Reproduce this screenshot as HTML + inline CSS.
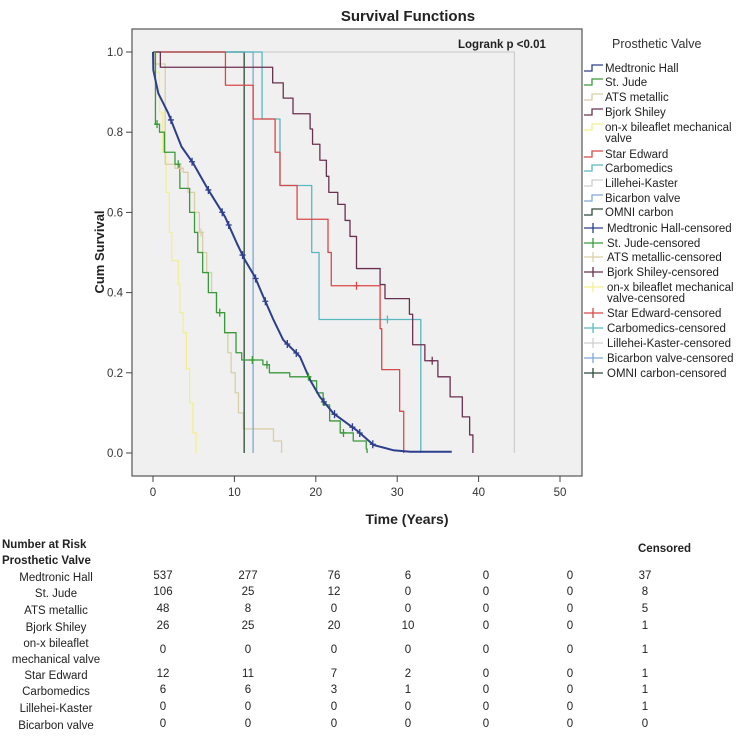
<!DOCTYPE html>
<html><head><meta charset="utf-8"><style>
body{margin:0;background:#fff;width:750px;height:747px;overflow:hidden;font-family:"Liberation Sans",Arial,sans-serif;position:relative}
.t{position:absolute;font-size:11.5px;color:#222;white-space:nowrap}
.b{font-weight:bold}
.c{transform:translateX(-50%);text-align:center}
</style></head><body>
<svg id="chart" width="750" height="535" style="position:absolute;left:0;top:0" font-family="Liberation Sans, Arial, sans-serif">
<text x="408" y="21" font-size="15" font-weight="bold" text-anchor="middle" fill="#222">Survival Functions</text>
<rect x="132" y="29" width="450" height="447" fill="#f0f0f0" stroke="#555" stroke-width="1.2"/>
<text x="458" y="48" font-size="11.5" font-weight="bold" fill="#222">Logrank p &lt;0.01</text>
<text transform="translate(104,252) rotate(-90)" font-size="13" font-weight="bold" text-anchor="middle" fill="#222">Cum Survival</text>
<text x="407" y="524" font-size="14" font-weight="bold" text-anchor="middle" fill="#222">Time (Years)</text>
<text x="612" y="48" font-size="12.5" fill="#333">Prosthetic Valve</text>
<g id="axes"></g><g id="series"></g><g id="legend"></g>
</svg>

<div class="t b" style="left:2px;top:537px;line-height:16px">Number at Risk<br>Prosthetic Valve</div>
<div class="t b" style="left:638px;top:543px">Censored</div>
<div id="table"></div>

<script>
const NS="http://www.w3.org/2000/svg";
const xTicks=[0,10,20,30,40,50];
const yTicks=[0.0,0.2,0.4,0.6,0.8,1.0];
const seriesNames=["Medtronic Hall","St. Jude","ATS metallic","Bjork Shiley","on-x bileaflet mechanical valve","Star Edward","Carbomedics","Lillehei-Kaster","Bicarbon valve","OMNI carbon"];
const seriesColors=["#2d3e8c","#3a9a3a","#d8cfa8","#6a3050","#f2ef90","#d84848","#58b8c0","#cfcfcf","#7ea8d8","#2e4a3a"];
// Medtronic Hall drawn as dense curve of read points
const mhT=[0,0.04,0.65,1.88,3.5,4.95,6.8,8.85,10.3,11.3,12.5,13.55,14.8,16.0,18.06,19.3,20.5,22.15,25.0,27.1,29.5,31.6,36.7];
const mhS=[1,0.955,0.897,0.847,0.764,0.722,0.656,0.589,0.523,0.481,0.44,0.39,0.332,0.282,0.24,0.182,0.14,0.099,0.057,0.02,0.007,0.003,0.003];
const sjT=[0,0.3,0.8,1.4,2.7,3.3,4.5,5.1,5.5,6.1,6.8,7.8,8.8,10.2,10.9,13.5,14.3,16.8,19.3,20.1,20.9,21.7,23.0,24.6,26.2,26.3];
const sjS=[1,0.82,0.8,0.75,0.72,0.66,0.6,0.55,0.5,0.45,0.4,0.35,0.3,0.25,0.232,0.22,0.2,0.19,0.18,0.15,0.12,0.08,0.05,0.03,0.01,0];
const atsT=[0,0.2,1.5,2.7,3.7,4.3,5.1,5.7,6.1,6.6,7.2,7.8,8.8,9.2,9.6,10.1,10.5,11.1,14.8,15.8];
const atsS=[1,0.97,0.72,0.71,0.70,0.65,0.6,0.55,0.5,0.45,0.4,0.35,0.3,0.25,0.2,0.15,0.1,0.06,0.03,0];
const bjT=[0,0.9,14.7,16.0,17.2,19.3,19.6,20.5,21.3,21.6,22.7,23.6,24.2,25.0,27.9,28.5,31.5,31.9,33.4,35.0,36.5,38.0,38.9,39.3];
const bjS=[1,0.962,0.923,0.885,0.846,0.808,0.77,0.73,0.69,0.65,0.62,0.58,0.54,0.46,0.42,0.385,0.346,0.27,0.23,0.19,0.14,0.09,0.045,0];
const oxT=[0,0.3,0.8,1.2,1.6,2.0,2.3,3.1,3.3,3.7,4.1,4.5,4.9,5.3];
const oxS=[1,0.95,0.85,0.75,0.65,0.55,0.48,0.42,0.35,0.3,0.21,0.125,0.05,0];
const seT=[0,8.9,12.3,15.0,15.6,17.7,21.5,21.9,27.9,28.1,30.3,30.8];
const seS=[1,0.917,0.833,0.75,0.667,0.583,0.5,0.417,0.31,0.208,0.104,0];
const cbT=[0,13.4,15.6,19.5,20.4,32.9];
const cbS=[1,0.833,0.667,0.5,0.333,0];
const lkT=[0,44.4];
const lkS=[1,0];
const bcT=[0,12.3];
const bcS=[1,0];
const omT=[0.9,11.2];
const omS=[1,0];
const mhCens=[2.2,4.8,6.8,8.5,9.3,11.0,12.6,13.8,16.5,17.6,21.0,22.3,24.5,25.4,27.0];
const sjCens=[0.5,3.1,8.2,12.2,14.0,19.1,23.4];
const seCens=[25.0];
const cbCens=[28.8];
const bjCens=[34.3];
const atsCens=[3.4,5.9];
const seriesT=[mhT,sjT,atsT,bjT,oxT,seT,cbT,lkT,bcT,omT];
const seriesS=[mhS,sjS,atsS,bjS,oxS,seS,cbS,lkS,bcS,omS];
const cens=[[0,mhCens],[1,sjCens],[5,seCens],[6,cbCens],[3,bjCens],[2,atsCens]];
const riskRows=["Medtronic Hall","St. Jude","ATS metallic","Bjork Shiley","on-x bileaflet|mechanical valve","Star Edward","Carbomedics","Lillehei-Kaster","Bicarbon valve"];
const riskVals=[[537,277,76,6,0,0,37],[106,25,12,0,0,0,8],[48,8,0,0,0,0,5],[26,25,20,10,0,0,1],[0,0,0,0,0,0,1],[12,11,7,2,0,0,1],[6,6,3,1,0,0,1],[0,0,0,0,0,0,1],[0,0,0,0,0,0,0]];

const X=t=>153+t*8.14;
const Y=s=>453-s*401;
function mk(tag,a,p){const e=document.createElementNS(NS,tag);for(const k in a)e.setAttribute(k,a[k]);p.appendChild(e);return e;}
const axes=document.getElementById('axes');
xTicks.forEach(v=>{
 const l=mk('line',{x1:X(v),x2:X(v),y1:476,y2:482,stroke:'#444'},axes);
 
 
 const t=mk('text',{x:X(v),y:496,'font-size':11.5,'text-anchor':'middle',fill:'#333'},axes);t.textContent=v;
 
 
});
yTicks.forEach(v=>{
 const l=mk('line',{x1:126,x2:132,y1:Y(v),y2:Y(v),stroke:'#444'},axes);
 
 
 const t=mk('text',{x:123,y:Y(v)+4,'font-size':11.5,'text-anchor':'end',fill:'#333'},axes);t.textContent=v.toFixed(1);
 
 
});
const g=document.getElementById('series');
function stepPath(T,S){let d='M'+X(T[0])+','+Y(S[0]);for(let i=1;i<T.length;i++){d+=' H'+X(T[i])+' V'+Y(S[i]);}return d;}
function linePath(T,S){let d='M'+X(T[0])+','+Y(S[0]);for(let i=1;i<T.length;i++){d+=' L'+X(T[i])+','+Y(S[i]);}return d;}
function survAt(T,S,t){if(T===mhT){for(let i=1;i<T.length;i++){if(T[i]>=t){const f=(t-T[i-1])/(T[i]-T[i-1]);return S[i-1]+f*(S[i]-S[i-1]);}}return S[S.length-1];}
 let s=S[0];for(let i=0;i<T.length;i++){if(T[i]<=t)s=S[i];}return s;}
[7,4,2,8,9,6,5,3,1,0].forEach(i=>{
 const d=i===0?linePath(seriesT[i],seriesS[i]):stepPath(seriesT[i],seriesS[i]);
 const p=mk('path',{d:d,fill:'none',stroke:seriesColors[i],'stroke-width':i===0?2:1.3,'stroke-linejoin':'round'},g);
 
 
});
cens.forEach(([i,arr])=>{arr.forEach(t=>{
 const x=X(t),y=Y(survAt(seriesT[i],seriesS[i],t));
 const c=mk('path',{d:`M${x-3},${y} H${x+3} M${x},${y-4} V${y+4}`,stroke:seriesColors[i],'stroke-width':1.3},g);
 
 
});});
// legend
const lg=document.getElementById('legend');
const legY=[68,82,97,112,127,154,168,183,198,212];
const legYc=[228,243,257,272,287,313,328,343,358,373];
seriesNames.forEach((n,i)=>{
 const y=legY[i];
 const m=mk('path',{d:`M584,${y+3} H592 V${y-3} H603`,fill:'none',stroke:seriesColors[i],'stroke-width':1.3},lg);
 
 
 const parts=n==="on-x bileaflet mechanical valve"?["on-x bileaflet mechanical","valve"]:[n];
 parts.forEach((s,k)=>{const t=mk('text',{x:605,y:y+4+k*11,'font-size':11.5,fill:'#222'},lg);t.textContent=s;
 
 });
 const yc=legYc[i];
 const m2=mk('path',{d:`M584,${yc} H603 M593,${yc-5} V${yc+5}`,stroke:seriesColors[i],'stroke-width':1.3},lg);
 
 
 const parts2=n==="on-x bileaflet mechanical valve"?["on-x bileaflet mechanical","valve-censored"]:[n+"-censored"];
 parts2.forEach((s,k)=>{const t=mk('text',{x:607,y:yc+4+k*11,'font-size':11.5,fill:'#222'},lg);t.textContent=s;
 
 });
});
// table
const tb=document.getElementById('table');
const rowY=[578,594,611,628,652,676,692,709,726];
const colX=[163,248,334,408,486,570,645];
riskRows.forEach((r,i)=>{
 const d=document.createElement('div');d.className='t c';
 
 
 const two=r.includes('|');
 d.style.left='56px';d.style.top=(rowY[i]-(two?16:8))+'px';d.style.lineHeight='16px';
 d.innerHTML=r.replace('|','<br>');tb.appendChild(d);
 riskVals[i].forEach((v,j)=>{
  const e=document.createElement('div');e.className='t c';
  
  
  e.style.left=colX[j]+'px';e.style.top=(rowY[i]-8)+'px';e.textContent=v;tb.appendChild(e);
 });
});
</script>
</body></html>
